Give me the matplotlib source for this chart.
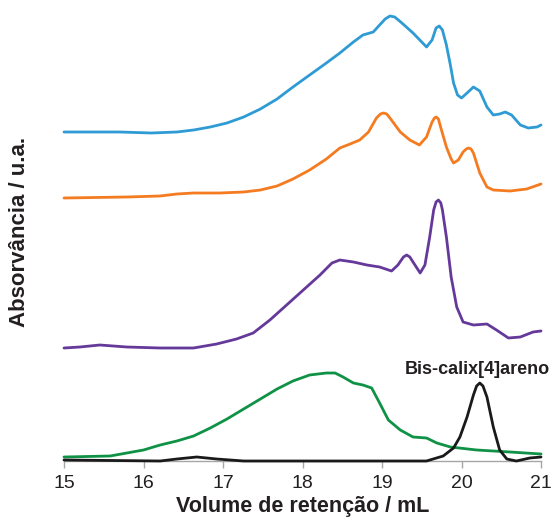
import matplotlib
matplotlib.use("Agg")
import matplotlib.pyplot as plt

plt.rcParams['font.family'] = ['Liberation Sans', 'DejaVu Sans']

# Retention volume (mL) and absorbance (arbitrary units, curves stacked with offsets)
blue_x = [15.00, 15.70, 16.10, 16.42, 16.63, 16.84, 17.05, 17.26, 17.47, 17.68, 17.88,
          18.09, 18.30, 18.47, 18.64, 18.76, 18.89, 18.97, 19.04, 19.10, 19.16, 19.25,
          19.39, 19.50, 19.56, 19.63, 19.68, 19.72, 19.76, 19.81, 19.86, 19.90, 19.95,
          20.00, 20.07, 20.15, 20.23, 20.32, 20.40, 20.48, 20.55, 20.63, 20.74, 20.84,
          20.95, 21.00]
blue_y = [3.29, 3.29, 3.28, 3.29, 3.31, 3.34, 3.38, 3.44, 3.52, 3.62, 3.74,
          3.86, 3.98, 4.08, 4.19, 4.26, 4.29, 4.36, 4.42, 4.45, 4.44, 4.38,
          4.28, 4.19, 4.14, 4.21, 4.33, 4.35, 4.31, 4.16, 3.96, 3.78, 3.66,
          3.63, 3.68, 3.74, 3.70, 3.54, 3.46, 3.47, 3.49, 3.46, 3.36, 3.33,
          3.34, 3.36]

orange_x = [15.00, 15.79, 16.21, 16.42, 16.63, 16.96, 17.26, 17.47, 17.68, 17.88, 18.09,
            18.30, 18.47, 18.60, 18.72, 18.83, 18.93, 18.98, 19.02, 19.06, 19.10, 19.23,
            19.35, 19.47, 19.56, 19.63, 19.66, 19.68, 19.71, 19.73, 19.81, 19.87, 19.90,
            19.96, 20.02, 20.06, 20.09, 20.12, 20.15, 20.23, 20.32, 20.40, 20.61, 20.82,
            21.00]
orange_y = [2.63, 2.64, 2.65, 2.67, 2.68, 2.68, 2.69, 2.71, 2.75, 2.82, 2.91,
            3.02, 3.13, 3.17, 3.21, 3.29, 3.43, 3.47, 3.48, 3.47, 3.43, 3.29,
            3.21, 3.16, 3.24, 3.39, 3.43, 3.44, 3.42, 3.36, 3.14, 3.02, 2.98,
            3.01, 3.09, 3.12, 3.13, 3.12, 3.08, 2.88, 2.74, 2.71, 2.70, 2.72,
            2.77]

purple_x = [15.00, 15.20, 15.45, 15.79, 16.21, 16.63, 16.92, 17.17, 17.38, 17.59, 17.80,
            18.01, 18.22, 18.37, 18.47, 18.64, 18.81, 18.97, 19.12, 19.20, 19.27, 19.31,
            19.35, 19.39, 19.48, 19.54, 19.60, 19.65, 19.68, 19.71, 19.74, 19.76, 19.81,
            19.87, 19.94, 20.02, 20.15, 20.32, 20.44, 20.59, 20.74, 20.90, 21.00]
purple_y = [1.13, 1.14, 1.16, 1.14, 1.13, 1.13, 1.17, 1.22, 1.28, 1.41, 1.56,
            1.71, 1.86, 1.98, 2.01, 1.99, 1.96, 1.94, 1.90, 1.96, 2.04, 2.06,
            2.04, 1.99, 1.88, 1.96, 2.24, 2.51, 2.59, 2.61, 2.58, 2.51, 2.24,
            1.84, 1.54, 1.39, 1.36, 1.37, 1.31, 1.23, 1.24, 1.29, 1.30]

green_x = [15.00, 15.58, 15.79, 16.00, 16.21, 16.42, 16.63, 16.84, 17.05, 17.26, 17.47,
           17.68, 17.88, 18.09, 18.30, 18.41, 18.51, 18.64, 18.76, 18.87, 18.97, 19.08,
           19.23, 19.39, 19.56, 19.69, 19.86, 20.19, 20.61, 21.00]
green_y = [0.04, 0.05, 0.08, 0.11, 0.16, 0.20, 0.25, 0.33, 0.42, 0.52, 0.62,
           0.72, 0.80, 0.86, 0.88, 0.88, 0.84, 0.78, 0.76, 0.73, 0.58, 0.41,
           0.31, 0.24, 0.23, 0.18, 0.14, 0.11, 0.09, 0.07]

black_x = [15.00, 16.21, 16.42, 16.67, 16.92, 17.26, 19.56, 19.77, 19.90, 19.98, 20.07,
           20.15, 20.19, 20.23, 20.27, 20.32, 20.40, 20.48, 20.57, 20.69, 20.86, 21.00]
black_y = [0.01, 0.00, 0.02, 0.04, 0.02, 0.00, 0.00, 0.05, 0.13, 0.24, 0.44,
           0.66, 0.75, 0.78, 0.75, 0.64, 0.34, 0.11, 0.02, 0.00, 0.03, 0.04]

x_ticks = [15, 16, 17, 18, 19, 20, 21]
peak_label = "Bis-calix[4]areno"

fig = plt.figure(figsize=(5.53, 5.30), dpi=100)
ax = fig.add_axes([64 / 553, 69 / 530, 477 / 553, 455 / 530])

series = [
    (blue_x, blue_y, '#2f9bd5'),
    (orange_x, orange_y, '#f47b20'),
    (purple_x, purple_y, '#65399a'),
    (green_x, green_y, '#0f9246'),
    (black_x, black_y, '#1a1a1a'),
]
for xs, ys, c in series:
    ax.plot(xs, ys, color=c, lw=2.0, solid_joinstyle='round',
            solid_capstyle='round', clip_on=False, zorder=3)

ax.set_xlim(15, 21)
ax.set_ylim(0, 4.55)
ax.set_xticks(x_ticks)
ax.set_xticklabels([str(t) for t in x_ticks])
ax.set_yticks([])

for side in ('left', 'top', 'right'):
    ax.spines[side].set_visible(False)
ax.spines['bottom'].set_color('#a6a6a6')
ax.spines['bottom'].set_linewidth(1.0)
ax.tick_params(axis='x', direction='out', length=5, width=1.0, color='#a6a6a6',
               labelsize=14, labelcolor='#231f20', pad=5)

ax.set_xlabel('Volume de retenção / mL', fontsize=15.5, fontweight='bold',
              color='#231f20', labelpad=3)
fig.text(20 / 553, 1 - 232 / 530, 'Absorvância / u.a.', rotation=90,
         fontsize=16, fontweight='bold', color='#231f20', ha='center', va='center')

ax.text(19.29, 0.91, peak_label, fontsize=13, fontweight='bold', color='#231f20',
        ha='left', va='center', clip_on=False)

fig.savefig('out.png', dpi=100)
